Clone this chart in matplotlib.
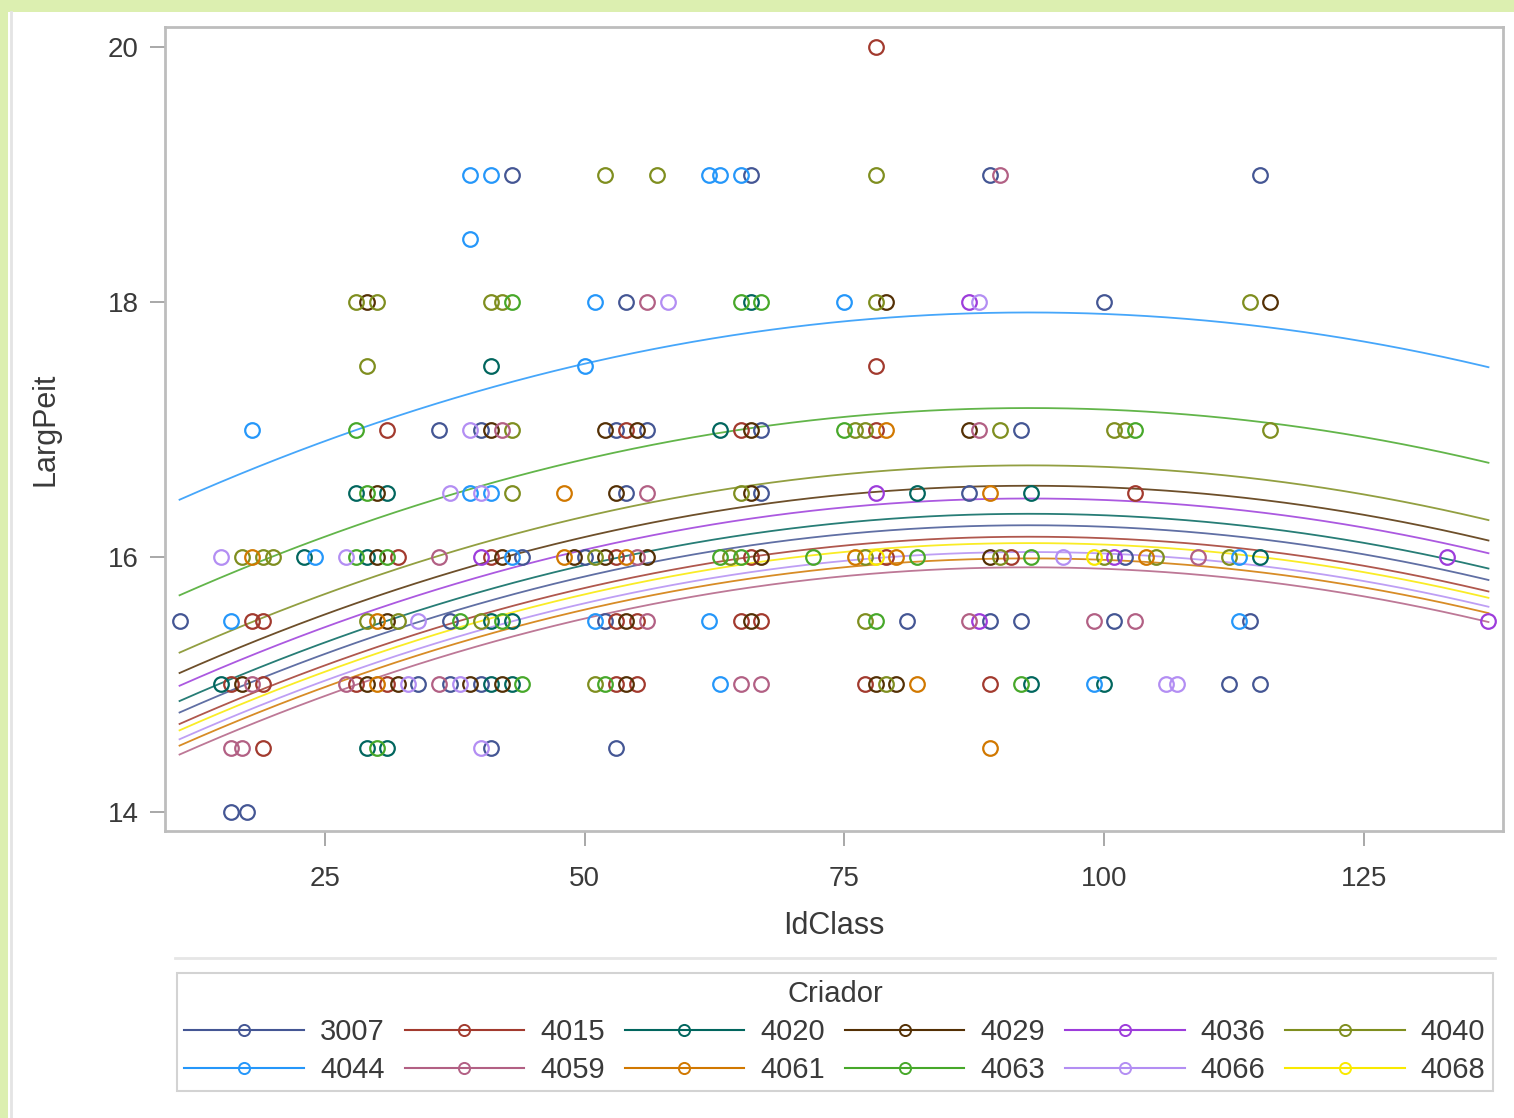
import numpy as np
import matplotlib
matplotlib.use('Agg')
import matplotlib.pyplot as plt
from matplotlib.lines import Line2D
from matplotlib.patches import Rectangle

plt.rcParams['font.family'] = ['Liberation Sans', 'DejaVu Sans']

# breeder groups and their style colours
criadores = ['3007', '4015', '4020', '4029', '4036', '4040',
             '4044', '4059', '4061', '4063', '4066', '4068']
cores = ['#445694', '#A23A2E', '#01665E', '#543005', '#9D3CDB', '#7F8E1F',
         '#2597FA', '#B26084', '#D17800', '#47A82A', '#B38EF3', '#F9E900']

# observations: IdClass, LargPeit, Criador
idclass = [78,
           39, 41, 43, 52, 57, 62, 63, 65, 66, 78, 89, 90, 115,
           39,
           28, 29, 30, 41, 42, 43, 51, 54, 56, 58, 65, 66, 67, 75, 78, 79, 87, 88, 100, 114, 116,
           29, 41, 50, 78,
           18, 28, 31, 36, 39, 40, 41, 42, 43, 52, 53, 54, 55, 56, 63, 65, 66, 67, 75, 76, 77,
           78, 79, 87, 88, 90, 92, 101, 102, 103, 116,
           28, 29, 30, 31, 37, 39, 40, 41, 43, 48, 53, 54, 56, 65, 66, 67, 78, 82, 87, 89, 93, 103,
           15, 17, 18, 19, 20, 23, 24, 27, 28, 29, 30, 31, 32, 36, 40, 41, 42, 43, 44, 48, 49, 50,
           51, 52, 53, 54, 55, 56, 63, 64, 65, 66, 67, 72, 76, 77, 78, 79, 80, 82, 89, 90, 91, 93,
           96, 99, 100, 101, 102, 104, 105, 109, 112, 113, 115, 133,
           11, 16, 18, 19, 29, 30, 31, 32, 34, 37, 38, 40, 41, 42, 43, 51, 52, 53, 54, 55, 56, 62,
           65, 66, 67, 77, 78, 81, 87, 88, 89, 92, 99, 101, 103, 113, 114, 137,
           15, 16, 17, 18, 19, 27, 28, 29, 30, 31, 32, 33, 34, 36, 37, 38, 39, 40, 41, 42, 43, 44,
           51, 52, 53, 54, 55, 63, 65, 67, 77, 78, 79, 80, 82, 89, 92, 93, 99, 100, 106, 107, 112, 115,
           16, 17, 19, 29, 30, 31, 40, 41, 53, 89,
           16, 17.5]
largpeit = ([20] + [19] * 13 + [18.5] + [18] * 21 + [17.5] * 4 + [17] * 31 + [16.5] * 22
            + [16] * 56 + [15.5] * 38 + [15] * 44 + [14.5] * 10 + [14] * 2)
criador = ['4015',
           '4044', '4044', '3007', '4040', '4040', '4044', '4044', '4044', '3007', '4040', '3007', '4059', '3007',
           '4044',
           '4040', '4029', '4040', '4040', '4040', '4063', '4044', '3007', '4059', '4066', '4063', '4020', '4063',
           '4044', '4040', '4029', '4036', '4066', '3007', '4040', '4029',
           '4040', '4020', '4044', '4015',
           '4044', '4063', '4015', '3007', '4066', '3007', '4029', '4059', '4040', '4029', '3007', '4015', '4029',
           '3007', '4020', '4015', '4029', '3007', '4063', '4040', '4040', '4015', '4061', '4029', '4059', '4040',
           '3007', '4040', '4040', '4063', '4040',
           '4020', '4063', '4029', '4020', '4066', '4044', '4066', '4044', '4040', '4061', '4029', '3007', '4059',
           '4040', '4029', '3007', '4036', '4020', '3007', '4061', '4020', '4015',
           '4066', '4040', '4061', '4040', '4040', '4020', '4044', '4066', '4063', '4020', '4029', '4063', '4015',
           '4059', '4036', '4015', '4029', '4044', '3007', '4061', '4029', '3007', '4040', '4029', '4015', '4061',
           '4059', '4029', '4063', '4040', '4063', '4015', '4029', '4063', '4061', '4040', '4068', '4015', '4061',
           '4063', '4029', '4040', '4015', '4063', '4066', '4068', '4040', '4036', '3007', '4061', '4040', '4059',
           '4040', '4044', '4020', '4036',
           '3007', '4044', '4015', '4015', '4040', '4061', '4029', '4040', '4066', '3007', '4063', '4040', '4020',
           '4063', '4020', '4044', '3007', '4015', '4029', '4015', '4059', '4044', '4015', '4029', '4015', '4040',
           '4063', '3007', '4059', '4036', '3007', '3007', '4059', '3007', '4059', '4044', '3007', '4036',
           '4020', '4015', '4029', '4059', '4015', '4059', '4015', '4029', '4061', '4015', '4029', '4066', '3007',
           '4059', '3007', '4066', '4029', '3007', '4020', '4029', '4020', '4063', '4040', '4063', '4015', '4029',
           '4015', '4044', '4059', '4059', '4015', '4029', '4040', '4029', '4061', '4015', '4063', '4020', '4044',
           '4020', '4066', '4066', '3007', '3007',
           '4059', '4059', '4015', '4020', '4063', '4020', '4066', '3007', '3007', '4061',
           '3007', '3007']

# quadratic fit per breeder, read at IdClass = 11, 75 and 137
fit_x = [11, 75, 137]
fit_y = {
    '4044': [16.45, 17.85, 17.49],
    '4063': [15.70, 17.10, 16.74],
    '4040': [15.25, 16.65, 16.29],
    '4029': [15.09, 16.49, 16.13],
    '4036': [14.99, 16.39, 16.03],
    '4020': [14.87, 16.27, 15.91],
    '3007': [14.78, 16.18, 15.82],
    '4015': [14.69, 16.09, 15.73],
    '4068': [14.64, 16.04, 15.68],
    '4066': [14.57, 15.97, 15.61],
    '4061': [14.52, 15.92, 15.56],
    '4059': [14.45, 15.85, 15.49],
}

xticks = [25, 50, 75, 100, 125]
yticks = [14, 16, 18, 20]

idclass = np.array(idclass, dtype=float)
largpeit = np.array(largpeit, dtype=float)
criador = np.array(criador)
cor_de = dict(zip(criadores, cores))
texto = '#3A3A3A'

fig = plt.figure(figsize=(15.14, 11.18), dpi=100, facecolor='#DCEFB0')
fig.patches.append(Rectangle((8 / 1514, 0), 1, 1 - 12 / 1118, transform=fig.transFigure,
                             facecolor='white', edgecolor='none', zorder=-10))
fig.lines.append(Line2D([11 / 1514, 11 / 1514], [0, 1 - 12 / 1118], transform=fig.transFigure,
                        color='#E4E4E4', lw=2))

ax = fig.add_axes([165 / 1514, 1 - 831 / 1118, 1338 / 1514, 804 / 1118])

xx = np.linspace(11, 137, 200)
for c in criadores:
    coef = np.polyfit(fit_x, fit_y[c], 2)
    ax.plot(xx, np.polyval(coef, xx), color=cor_de[c], lw=1.3, alpha=0.85, zorder=2)

for c in criadores:
    m = criador == c
    ax.plot(idclass[m], largpeit[m], 'o', ms=10.5, mfc='none', mec=cor_de[c],
            mew=1.6, zorder=3)

ax.set_xlim(9.6, 138.4)
ax.set_ylim(13.85, 20.16)
ax.set_xticks(xticks)
ax.set_yticks(yticks)
ax.tick_params(direction='out', length=11, width=1.2, color='#9A9A9A',
               labelsize=20, labelcolor=texto, pad=8)
ax.tick_params(axis='x', pad=14)
for s in ax.spines.values():
    s.set_color('#BDBDBD')
    s.set_linewidth(2)
ax.set_xlabel('IdClass', fontsize=22, color=texto, labelpad=14)
ax.set_ylabel('LargPeit', fontsize=22, color=texto, labelpad=34)

# legend: two rows, filled row-wise
handles = [Line2D([], [], color=cor_de[c], lw=1.5, marker='o', ms=8, mfc='none',
                  mec=cor_de[c], mew=1.4) for c in criadores]
order = [i + 6 * r for i in range(6) for r in range(2)]
leg = fig.legend([handles[i] for i in order], [criadores[i] for i in order],
                 ncol=6, loc='lower center',
                 bbox_to_anchor=(835 / 1514, 27 / 1118),
                 title='Criador', title_fontsize=21, fontsize=21,
                 handlelength=4.1, handletextpad=0.55, columnspacing=0.68,
                 labelspacing=0.33, fancybox=False, edgecolor='#C8C8C8',
                 borderpad=0.25, borderaxespad=0, frameon=True)
leg.get_frame().set_linewidth(1.5)
for t in leg.get_texts():
    t.set_color(texto)
leg.get_title().set_color(texto)

fig.lines.append(Line2D([175 / 1514, 1495 / 1514], [1 - 958 / 1118, 1 - 958 / 1118],
                        transform=fig.transFigure, color='#E6E6E6', lw=2))

fig.savefig('out.png', dpi=100, facecolor=fig.get_facecolor())
